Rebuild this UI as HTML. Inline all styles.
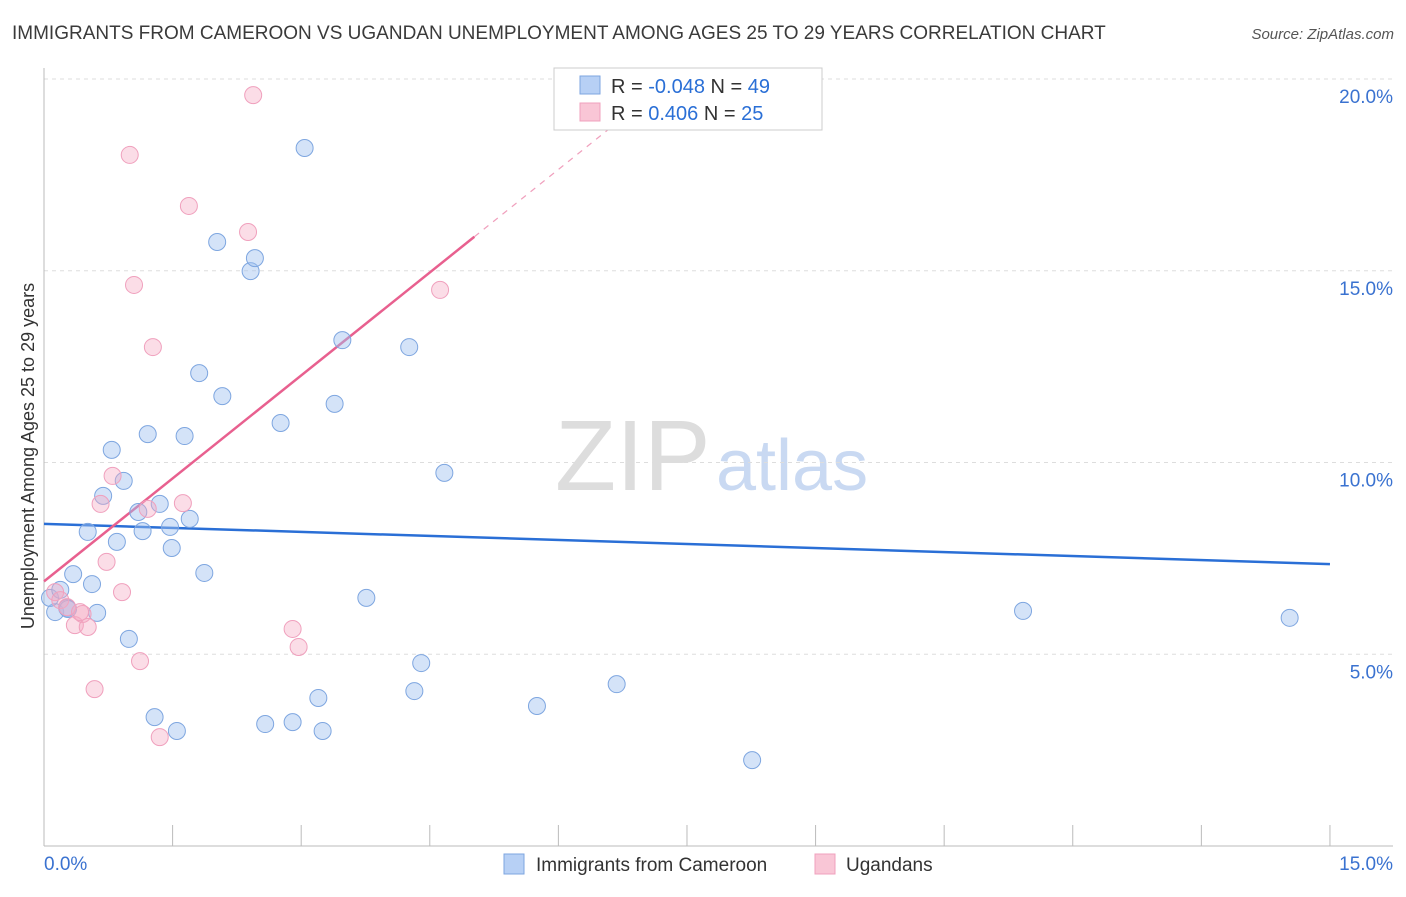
<!DOCTYPE html>
<html><head><meta charset="utf-8"><style>
body{margin:0;background:#fff;font-family:"Liberation Sans",sans-serif;}
svg text{font-family:"Liberation Sans",sans-serif;}
</style></head><body>
<svg id="chart" width="1406" height="892" viewBox="0 0 1406 892" xmlns="http://www.w3.org/2000/svg">
<text x="12" y="39" font-size="19" fill="#3a3a3a">IMMIGRANTS FROM CAMEROON VS UGANDAN UNEMPLOYMENT AMONG AGES 25 TO 29 YEARS CORRELATION CHART</text>
<text x="1394" y="39" font-size="15" fill="#555" text-anchor="end" font-style="italic">Source: ZipAtlas.com</text>
<text transform="translate(34,456) rotate(-90)" font-size="18" fill="#333" text-anchor="middle">Unemployment Among Ages 25 to 29 years</text>
<g>
<text x="555" y="490" font-size="100" fill="#ddd" font-family="Liberation Serif,serif">ZIP</text>
<text x="716" y="490" font-size="72" fill="#c9d9f2">atlas</text>
</g>
<g id="grid"></g><g id="axes"></g><g id="trends"></g><g id="points"></g>
<g>
<rect x="554" y="68" width="268" height="62" fill="#fff" stroke="#ccc"/>
<rect x="580" y="76" width="20" height="18" fill="#b7d0f5" stroke="#7ea6e0"/>
<text x="611" y="93" font-size="20" fill="#333">R = <tspan fill="#2a6fd6">-0.048</tspan>   N = <tspan fill="#2a6fd6">49</tspan></text>
<rect x="580" y="103" width="20" height="18" fill="#f9c6d6" stroke="#f0a0bd"/>
<text x="611" y="120" font-size="20" fill="#333">R =   <tspan fill="#2a6fd6">0.406</tspan>   N = <tspan fill="#2a6fd6">25</tspan></text>
</g>
<g>
<rect x="504" y="854" width="20" height="20" fill="#b7d0f5" stroke="#7ea6e0"/>
<text x="536" y="871" font-size="19" fill="#333">Immigrants from Cameroon</text>
<rect x="815" y="854" width="20" height="20" fill="#f9c6d6" stroke="#f0a0bd"/>
<text x="846" y="871" font-size="19" fill="#333">Ugandans</text>
</g>
</svg>
<script>
const xTicks=[0,1.5,3,4.5,6,7.5,9,10.5,12,13.5,15];
const yTicks=[5,10,15,20];
const yTickLabels=["5.0%","10.0%","15.0%","20.0%"];
const xEndLabels=["0.0%","15.0%"];
const blueX=[0.13,0.07,0.19,0.27,0.34,0.56,0.62,0.51,0.69,0.79,0.85,0.93,0.99,1.10,1.15,1.21,1.29,1.35,1.47,1.49,1.55,1.64,1.70,1.81,1.87,2.02,2.08,2.41,2.46,2.58,2.76,2.90,3.04,3.20,3.25,3.39,3.48,3.76,4.26,4.32,4.40,4.67,5.75,6.68,8.26,11.42,14.53,8.18,0.28];
const blueY=[6.10,6.47,6.68,6.21,7.09,6.83,6.08,8.19,9.13,10.33,7.93,9.52,5.40,8.71,8.21,10.74,3.36,8.92,8.32,7.77,3.00,10.69,8.53,12.33,7.12,15.75,11.73,14.99,15.33,3.18,11.03,3.23,18.20,3.86,3.00,11.53,13.19,6.47,13.01,4.04,4.77,9.73,3.65,4.22,2.24,6.13,5.95,19.63,6.18];
const pinkX=[0.13,0.19,0.27,0.36,0.45,0.51,0.59,0.66,0.73,0.80,0.91,1.00,1.05,1.12,1.21,1.27,1.35,1.62,1.69,2.38,2.44,2.90,2.97,4.62,0.42];
const pinkY=[6.62,6.41,6.23,5.76,6.05,5.71,4.09,8.92,7.41,9.65,6.62,18.02,14.63,4.82,8.79,13.01,2.84,8.94,16.69,16.01,19.58,5.66,5.19,14.50,6.10];
const blueTrend=[8.40,7.35]; // y at x=0 and x=15
const pinkTrend=[6.90,1.79]; // intercept, slope
const NS="http://www.w3.org/2000/svg";
const xs=v=>44+v*85.73, ys=v=>846-v*38.35;
function mk(tag,attrs,parent){const e=document.createElementNS(NS,tag);for(const k in attrs)e.setAttribute(k,attrs[k]);document.getElementById(parent).appendChild(e);return e;}
yTicks.forEach((t,i)=>{
 const l=mk('line',{x1:44,x2:1393,y1:ys(t),y2:ys(t),stroke:'#ddd','stroke-dasharray':'4,4'},'grid');
 
 
 const tx=mk('text',{x:1393,y:ys(t)+24,'font-size':19,fill:'#3a72d0','text-anchor':'end'},'axes');
 tx.textContent=yTickLabels[i];
 
 
});
const ax=mk('line',{x1:44,x2:1393,y1:846,y2:846,stroke:'#bbb'},'axes');


const ay=mk('line',{x1:44,x2:44,y1:68,y2:846,stroke:'#bbb'},'axes');


xTicks.forEach(t=>{const l=mk('line',{x1:xs(t),x2:xs(t),y1:825,y2:846,stroke:'#bbb'},'axes');
 
 });
[[0,'start'],[15,'end']].forEach((p,i)=>{const t=mk('text',{x:i?1393:44,y:870,'font-size':19,fill:'#3a72d0','text-anchor':p[1]},'axes');t.textContent=xEndLabels[i];
 
 });
const bt=mk('line',{x1:xs(0),y1:ys(blueTrend[0]),x2:xs(15),y2:ys(blueTrend[1]),stroke:'#2a6fd6','stroke-width':2.5},'trends');


const pt=mk('line',{x1:xs(0),y1:ys(pinkTrend[0]),x2:xs(5.02),y2:ys(pinkTrend[0]+pinkTrend[1]*5.02),stroke:'#e8608f','stroke-width':2.5},'trends');


const pd=mk('line',{x1:xs(5.02),y1:ys(pinkTrend[0]+pinkTrend[1]*5.02),x2:xs(6.8),y2:ys(pinkTrend[0]+pinkTrend[1]*6.8),stroke:'#f0a0bd','stroke-width':1.2,'stroke-dasharray':'6,6'},'trends');


blueX.forEach((x,i)=>{const c=mk('circle',{cx:xs(x),cy:ys(blueY[i]),r:8.5,fill:'rgba(160,192,240,0.45)',stroke:'#7ea6e0','stroke-width':1},'points');
 
 });
pinkX.forEach((x,i)=>{const c=mk('circle',{cx:xs(x),cy:ys(pinkY[i]),r:8.5,fill:'rgba(245,170,195,0.4)',stroke:'#f0a0bd','stroke-width':1},'points');
 
 });
</script>
</body></html>
